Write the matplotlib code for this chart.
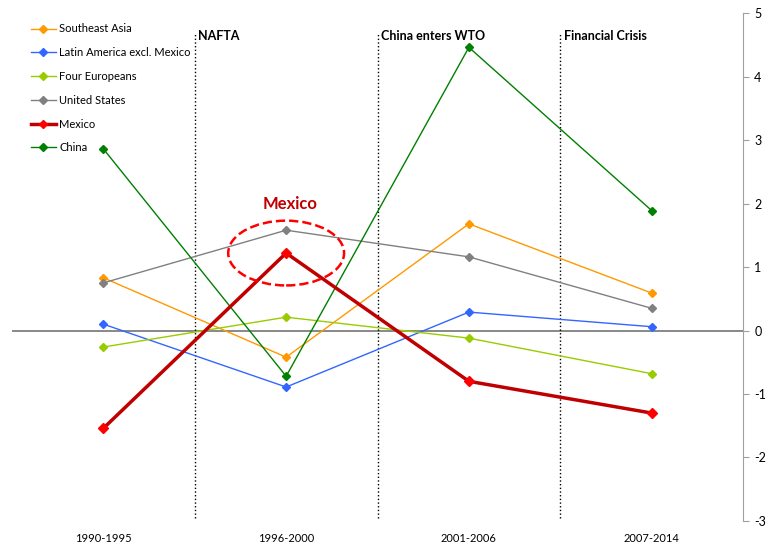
import matplotlib.pyplot as plt
from matplotlib.patches import Ellipse

plt.rcParams['font.family'] = ['Lato', 'DejaVu Sans']
plt.rcParams['axes.unicode_minus'] = False

# Periods and series values
periods = ["1990-1995", "1996-2000", "2001-2006", "2007-2014"]
southeast_asia = [0.83, -0.42, 1.68, 0.59]
latin_america = [0.10, -0.89, 0.29, 0.06]
four_europeans = [-0.26, 0.21, -0.12, -0.68]
united_states = [0.75, 1.58, 1.16, 0.35]
mexico = [-1.54, 1.22, -0.80, -1.30]
china = [2.86, -0.72, 4.46, 1.89]

events = ["NAFTA", "China enters WTO", "Financial Crisis"]
event_pos = [0.5, 1.5, 2.5]

x = list(range(len(periods)))

fig = plt.figure(figsize=(7.66, 5.44), dpi=100)
ax = fig.add_axes([0.0157, 0.0423, 0.9543, 0.9337])

ax.axhline(0, color='#7f7f7f', lw=1.3, zorder=1)

for xp, name in zip(event_pos, events):
    ax.plot([xp, xp], [-2.95, 4.68], color='black', ls=':', lw=1, zorder=1)
    ax.text(xp + 0.02, 4.64, name, fontsize=9, fontweight='bold',
            ha='left', va='center')

ax.plot(x, southeast_asia, color='#FF9900', lw=1, marker='D', ms=4.5, label='Southeast Asia')
ax.plot(x, latin_america, color='#3366FF', lw=1, marker='D', ms=4.5, label='Latin America excl. Mexico')
ax.plot(x, four_europeans, color='#99CC00', lw=1, marker='D', ms=4.5, label='Four Europeans')
ax.plot(x, united_states, color='#808080', lw=1, marker='D', ms=4.5, label='United States')
ax.plot(x, mexico, color='#C00000', lw=2.5, marker='D', ms=5, mfc='#FF0000', mec='#FF0000',
        label='Mexico', zorder=4)
ax.plot(x, china, color='#008000', lw=1, marker='D', ms=4.5, label='China')

ell = Ellipse((1, 1.22), 0.634, 1.02, fill=False, ec='#FF0000', ls='--', lw=1.8, zorder=5)
ax.add_patch(ell)
ax.text(1.02, 2.0, "Mexico", color='#C00000', fontsize=12, fontweight='bold',
        ha='center', va='center')

ax.set_xlim(-0.5, 3.5)
ax.set_ylim(-3, 5)
ax.set_xticks(x)
ax.set_xticklabels(periods, fontsize=8)
ax.tick_params(axis='x', length=0, pad=9)
ax.yaxis.tick_right()
ax.set_yticks(range(-3, 6))
ax.tick_params(axis='y', length=4, color='#A0A0A0', labelsize=9, pad=4)

for s in ['top', 'left', 'bottom']:
    ax.spines[s].set_visible(False)
ax.spines['right'].set_color('#A0A0A0')

ax.legend(loc='upper left', bbox_to_anchor=(0.035, 0.965), bbox_transform=fig.transFigure,
          frameon=False, fontsize=8, handlelength=2.2, handletextpad=0.3,
          labelspacing=1.15, borderaxespad=0, markerscale=0.9)

fig.savefig("out.png", dpi=100)
